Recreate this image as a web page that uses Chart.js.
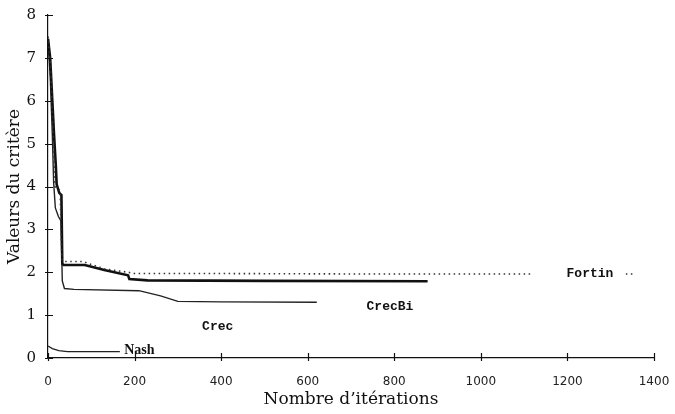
<!DOCTYPE html>
<html>
<head>
<meta charset="utf-8">
<script src="https://cdn.jsdelivr.net/npm/chart.js@4/dist/chart.umd.min.js"></script>
<style>
html,body{margin:0;padding:0;background:#fff;}
#wrap{width:675px;height:414px;position:relative;}
</style>
</head>
<body>
<div id="wrap"><canvas id="c" width="675" height="414"></canvas></div>
<script>
// ---- data ----
const xTicks = [0, 200, 400, 600, 800, 1000, 1200, 1400];
const yTicks = [0, 1, 2, 3, 4, 5, 6, 7, 8];

const fortinIter = [0, 6, 12, 16, 28, 32, 36, 80, 130, 185, 200, 400, 700, 1120, null, 1335, 1355];
const fortinVal  = [7.5, 6.8, 5.2, 4.0, 3.9, 2.3, 2.25, 2.25, 2.08, 2.0, 1.97, 1.97, 1.96, 1.96, null, 1.96, 1.96];

const crecBiIter = [0, 5, 10, 14, 18, 20, 26, 31, 33, 36, 85, 130, 185, 188, 230, 500, 877];
const crecBiVal  = [7.45, 7.0, 6.0, 5.2, 4.5, 4.05, 3.85, 3.8, 2.2, 2.17, 2.17, 2.05, 1.93, 1.84, 1.81, 1.8, 1.79];

const crecIter = [0, 5, 10, 13, 17, 24, 30, 33, 38, 60, 210, 260, 300, 400, 621];
const crecVal  = [7.4, 6.6, 5.2, 4.1, 3.5, 3.3, 3.2, 1.8, 1.62, 1.6, 1.57, 1.45, 1.32, 1.31, 1.3];

const nashIter = [0, 10, 25, 45, 166];
const nashVal  = [0.28, 0.22, 0.17, 0.15, 0.15];

const curveNames = ['Fortin', 'CrecBi', 'Crec', 'Nash'];
const labelIter = [1252, 790, 392, 211];
const labelVal  = [1.97, 1.19, 0.72, 0.17];

function pts(xs, ys) {
  return xs.map((x, i) => (x === null ? {x: NaN, y: null} : {x: x, y: ys[i]}));
}

const axisPlugin = {
  id: 'crossTicks',
  afterDraw(chart) {
    const ctx = chart.ctx;
    const xs = chart.scales.x, ys = chart.scales.y;
    const x0 = xs.getPixelForValue(0), y0 = ys.getPixelForValue(0);
    ctx.save();
    ctx.strokeStyle = '#111';
    ctx.lineWidth = 1.2;
    ctx.beginPath();
    yTicks.forEach(v => {
      const py = Math.round(ys.getPixelForValue(v)) + 0.5;
      ctx.moveTo(x0 - 3, py); ctx.lineTo(x0 + 5, py);
    });
    xTicks.forEach(v => {
      const px = Math.round(xs.getPixelForValue(v)) + 0.5;
      ctx.moveTo(px, y0 - 5); ctx.lineTo(px, y0 + 3);
    });
    ctx.stroke();
    // curve labels
    ctx.fillStyle = '#111';
    ctx.textAlign = 'center';
    ctx.textBaseline = 'middle';
    curveNames.forEach((name, i) => {
      ctx.font = name === 'Nash' ? 'bold 14px "Liberation Serif"' : 'bold 13px "Liberation Mono"';
      ctx.fillText(name, xs.getPixelForValue(labelIter[i]), ys.getPixelForValue(labelVal[i]));
    });
    ctx.restore();
  }
};

new Chart(document.getElementById('c'), {
  type: 'line',
  data: {
    datasets: [
      {label: 'Fortin', data: pts(fortinIter, fortinVal), borderColor: '#333', borderWidth: 1.6, borderDash: [1.5, 3.5], spanGaps: false},
      {label: 'CrecBi', data: pts(crecBiIter, crecBiVal), borderColor: '#111', borderWidth: 2.6},
      {label: 'Crec', data: pts(crecIter, crecVal), borderColor: '#222', borderWidth: 1.4},
      {label: 'Nash', data: pts(nashIter, nashVal), borderColor: '#222', borderWidth: 1.3}
    ]
  },
  options: {
    responsive: false,
    animation: false,
    parsing: true,
    elements: {point: {radius: 0}, line: {tension: 0, fill: false}},
    layout: {padding: {top: 15, right: 21, left: 0, bottom: 0}},
    plugins: {legend: {display: false}, tooltip: {enabled: false}},
    scales: {
      x: {
        type: 'linear', min: 0, max: 1400,
        afterFit(s) { s.height = 56; s.paddingLeft = 0; s.paddingRight = 0; },
        afterBuildTicks(s) { s.ticks = xTicks.map(v => ({value: v})); },
        grid: {display: true, drawOnChartArea: false, drawTicks: false},
        border: {display: true, color: '#111', width: 1.2},
        ticks: {padding: 17, color: '#222', font: {family: '"DejaVu Sans"', size: 12}, maxRotation: 0,
                callback: v => String(v)},
        title: {display: true, text: 'Nombre d’itérations', color: '#111',
                font: {family: '"DejaVu Serif"', size: 17}, padding: {top: 0, bottom: 4}}
      },
      y: {
        type: 'linear', min: 0, max: 8,
        afterFit(s) { s.width = 48; s.paddingTop = 0; s.paddingBottom = 0; },
        afterBuildTicks(s) { s.ticks = yTicks.map(v => ({value: v})); },
        grid: {display: true, drawOnChartArea: false, drawTicks: false},
        border: {display: true, color: '#111', width: 1.2},
        ticks: {padding: 12, color: '#111', font: {family: '"DejaVu Serif"', size: 15}, callback: v => String(v)},
        title: {display: true, text: 'Valeurs du critère', color: '#111',
                font: {family: '"DejaVu Serif"', size: 17}, padding: {top: 4, bottom: 0}}
      }
    }
  },
  plugins: [axisPlugin]
});
</script>
</body>
</html>
